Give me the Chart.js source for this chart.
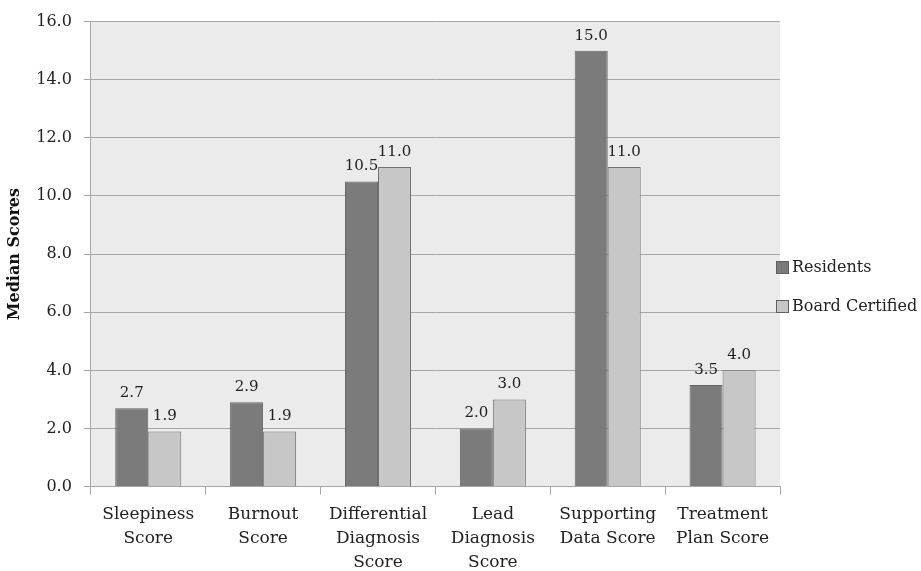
<!DOCTYPE html>
<html><head><meta charset="utf-8">
<script src="https://cdn.jsdelivr.net/npm/chart.js@4"></script>
<style>html,body{margin:0;padding:0;background:#fff}#wrap{width:921px;height:571px}</style>
</head><body><div id="wrap"><canvas id="c"></canvas></div>
<script>
const categories = [["Sleepiness","Score"],["Burnout","Score"],["Differential","Diagnosis","Score"],["Lead","Diagnosis","Score"],["Supporting","Data Score"],["Treatment","Plan Score"]];
const residents = [2.7, 2.9, 10.5, 2.0, 15.0, 3.5];
const boardCertified = [1.9, 1.9, 11.0, 3.0, 11.0, 4.0];
const seriesNames = ["Residents", "Board Certified"];
const FONT = "'DejaVu Serif', serif";

const bgPlugin = {
  id: 'bg',
  beforeDraw(chart) {
    const {ctx, chartArea: a} = chart;
    ctx.save(); ctx.fillStyle = '#ebebeb';
    ctx.fillRect(a.left, a.top, a.right - a.left, a.bottom - a.top);
    ctx.restore();
  }
};
const labelPlugin = {
  id: 'vals',
  afterDatasetsDraw(chart) {
    const ctx = chart.ctx;
    ctx.save();
    ctx.font = "15px " + FONT; ctx.fillStyle = '#222';
    ctx.textAlign = 'center'; ctx.textBaseline = 'alphabetic';
    chart.data.datasets.forEach((ds, i) => {
      chart.getDatasetMeta(i).data.forEach((bar, j) => {
        ctx.fillText(ds.data[j].toFixed(1), bar.x, bar.y - 11);
      });
    });
    ctx.restore();
  }
};
const legendPlugin = {
  id: 'leg',
  afterDraw(chart) {
    const ctx = chart.ctx;
    ctx.save();
    ctx.font = "16px " + FONT; ctx.textBaseline = 'middle'; ctx.textAlign = 'left';
    const ys = [268, 307];
    chart.data.datasets.forEach((ds, i) => {
      const y = ys[i];
      ctx.fillStyle = ds.backgroundColor; ctx.strokeStyle = '#606060'; ctx.lineWidth = 1;
      ctx.fillRect(776.5, y - 6.5, 12, 12); ctx.strokeRect(776.5, y - 6.5, 12, 12);
      ctx.fillStyle = '#222';
      ctx.fillText(ds.label, 792, y);
    });
    ctx.restore();
  }
};

new Chart(document.getElementById('c'), {
  type: 'bar',
  data: {
    labels: categories,
    datasets: [
      {label: seriesNames[0], data: residents, backgroundColor: '#7b7b7b', borderColor: '#626262', borderWidth: 1},
      {label: seriesNames[1], data: boardCertified, backgroundColor: '#c6c7c6', borderColor: '#727272', borderWidth: 1}
    ]
  },
  options: {
    responsive: true, maintainAspectRatio: false, animation: false,
    layout: {padding: {left: 1, right: 141, top: 12, bottom: -11}},
    datasets: {bar: {categoryPercentage: 0.575, barPercentage: 1.0}},
    plugins: {legend: {display: false}, tooltip: {enabled: false}},
    scales: {
      x: {
        grid: {display: true, offset: true, drawOnChartArea: false, drawTicks: true, tickLength: 8, color: '#a6a6a6'},
        border: {color: '#a6a6a6'},
        ticks: {font: {family: FONT, size: 17, lineHeight: 1.4}, color: '#222', padding: 8, maxRotation: 0}
      },
      y: {
        min: 0, max: 16,
        grid: {color: '#a6a6a6', tickLength: 7},
        border: {color: '#a6a6a6'},
        ticks: {stepSize: 2, font: {family: FONT, size: 16}, color: '#222', padding: 12, callback: v => v.toFixed(1)},
        title: {display: true, text: 'Median Scores', font: {family: FONT, size: 16, weight: 'bold'}, color: '#111', padding: {top: 4, bottom: 0}}
      }
    }
  },
  plugins: [bgPlugin, labelPlugin, legendPlugin]
});
</script></body></html>
